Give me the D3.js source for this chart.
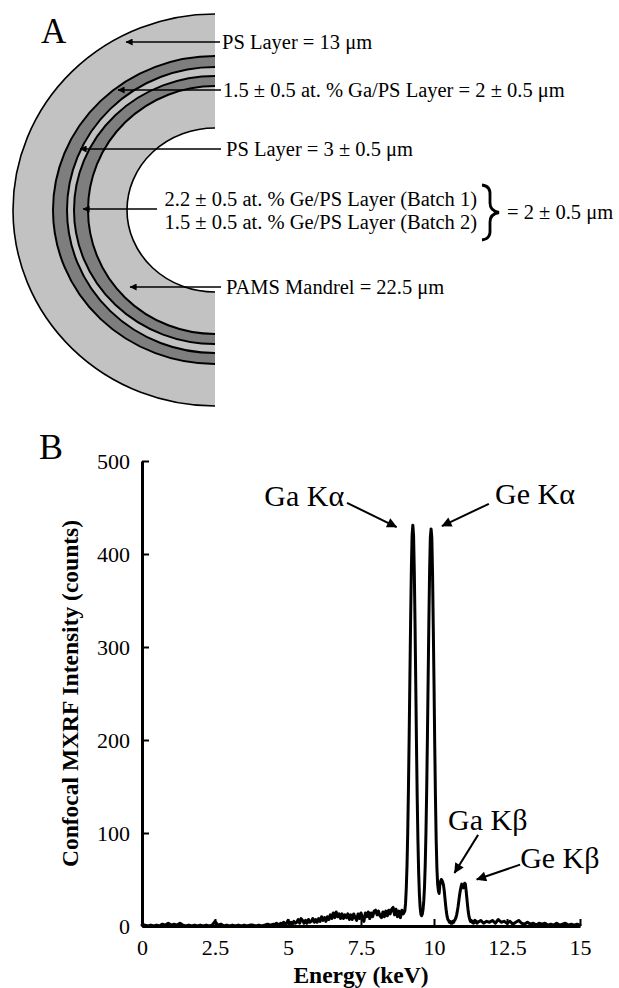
<!DOCTYPE html>
<html><head><meta charset="utf-8">
<script src="https://cdn.jsdelivr.net/npm/d3@7"></script>
<style>
body{margin:0;background:#fff;}
svg{display:block;}
text{font-family:"Liberation Serif","Times New Roman",Times,serif !important;fill:#000;}
</style>
</head><body>
<svg id="chart" width="619" height="988"></svg>
<script>
// ---------------- DATA ----------------
// Panel A: layer annotations (outside -> inside)
const layerLabels = [
  "PS Layer = 13 \u03bcm",
  "1.5 \u00b1 0.5 at. % Ga/PS Layer = 2 \u00b1 0.5 \u03bcm",
  "PS Layer = 3 \u00b1 0.5 \u03bcm",
  "PAMS Mandrel = 22.5 \u03bcm"
];
const geLayerLabels = [
  "2.2 \u00b1 0.5 at. % Ge/PS Layer (Batch 1)",
  "1.5 \u00b1 0.5 at. % Ge/PS Layer (Batch 2)"
];
const geLayerThickness = "= 2 \u00b1 0.5 \u03bcm";
const panelLetters = ["A", "B"];

// Panel B: axis ticks
const xTicks = [0, 2.5, 5, 7.5, 10, 12.5, 15];
const yTicks = [0, 100, 200, 300, 400, 500];
const xTitle = "Energy (keV)";
const yTitle = "Confocal MXRF Intensity (counts)";

// Panel B: spectrum [energy keV, counts]
const lowEnergyBackground = [
 [0,1],[0.1,1],[0.2,0],[0.3,1],[0.4,0],[0.5,1],[0.6,0],[0.7,2],[0.8,1],[0.9,3],
 [1.0,1],[1.1,2],[1.2,1],[1.3,3],[1.4,1],[1.5,0],[1.6,1],[1.7,0],[1.8,1],[1.9,0],
 [2.0,1],[2.1,0],[2.2,1],[2.3,0],[2.4,1],[2.5,5],[2.6,1],[2.7,2],[2.8,0],[2.9,1],
 [3.0,0],[3.1,1],[3.2,0],[3.3,1],[3.4,0],[3.5,1],[3.6,0],[3.7,1],[3.8,1],[3.9,0],
 [4.0,1],[4.1,0],[4.2,1],[4.3,2],[4.4,1]
];
const midBackground = [
 [4.50,2],[4.55,1],[4.60,3],[4.65,2],[4.70,1],[4.75,3],[4.80,2],[4.85,4],[4.90,2],[4.95,3],
 [5.00,6],[5.05,2],[5.10,4],[5.15,2],[5.20,5],[5.25,3],[5.30,4],[5.35,7],[5.40,3],[5.45,8],
 [5.50,6],[5.55,3],[5.60,6],[5.65,3],[5.70,7],[5.75,4],[5.80,5],[5.85,8],[5.90,4],[5.95,7],
 [6.00,4],[6.05,8],[6.10,5],[6.15,10],[6.20,6],[6.25,9],[6.30,5],[6.35,10],[6.40,7],[6.45,12],
 [6.50,8],[6.55,14],[6.60,9],[6.65,15],[6.70,10],[6.75,13],[6.80,8],[6.85,13],[6.90,8],[6.95,12],
 [7.00,9],[7.05,13],[7.10,7],[7.15,12],[7.20,7],[7.25,13],[7.30,9],[7.35,6],[7.40,13],[7.45,8],
 [7.50,14],[7.55,9],[7.60,5],[7.65,14],[7.70,10],[7.75,15],[7.80,8],[7.85,14],[7.90,10],[7.95,16],
 [8.00,17],[8.05,12],[8.10,16],[8.15,11],[8.20,9],[8.25,15],[8.30,10],[8.35,16],[8.40,11],[8.45,17],
 [8.50,13],[8.55,18],[8.60,20],[8.65,12],[8.70,18],[8.75,10],[8.80,16],[8.85,9],[8.90,17],[8.95,13]
];
const peakRegion = [
 [9.000,16],[9.025,24],[9.050,40],[9.075,64],[9.100,100],[9.125,148],[9.150,205],[9.175,268],
 [9.200,330],[9.225,384],[9.250,420],[9.275,431],[9.300,420],[9.325,382],[9.350,326],[9.375,262],
 [9.400,196],[9.425,138],[9.450,92],[9.475,57],[9.500,34],[9.525,20],[9.550,13],[9.575,11],
 [9.600,13],[9.625,18],[9.650,27],[9.675,42],[9.700,66],[9.725,101],[9.750,147],[9.775,204],
 [9.800,267],[9.825,329],[9.850,383],[9.875,418],[9.900,427],[9.925,418],[9.950,380],[9.975,322],
 [10.000,262],[10.025,195],[10.050,138],[10.075,92],[10.100,62],[10.125,45],[10.150,38],[10.175,35],
 [10.200,44],[10.225,48],[10.250,50],[10.275,49],[10.300,47],[10.325,44],[10.350,38],[10.375,30],
 [10.400,22],[10.425,15],[10.450,10],[10.475,7],[10.500,6],[10.525,4],[10.550,5],[10.575,3],
 [10.600,4],[10.625,3],[10.650,5],[10.675,4],[10.700,6],[10.725,7],[10.750,9],[10.775,12],
 [10.800,16],[10.825,21],[10.850,27],[10.875,33],[10.900,38],[10.925,42],[10.950,45],[10.975,44],
 [11.000,41],[11.025,44],[11.050,46],[11.075,45],[11.100,38],[11.125,30],[11.150,22],[11.175,15],
 [11.200,10],[11.225,7],[11.250,5],[11.275,6],[11.300,4],[11.325,5],[11.350,3],[11.375,4],
 [11.400,6],[11.425,4],[11.450,5],[11.475,3]
];
const highEnergyTail = [
 [11.5,4],[11.6,6],[11.7,3],[11.8,5],[11.9,4],[12.0,6],[12.1,3],[12.2,7],[12.3,4],[12.4,5],
 [12.5,3],[12.6,5],[12.7,2],[12.8,4],[12.9,6],[13.0,3],[13.1,2],[13.2,4],[13.3,2],[13.4,3],
 [13.5,1],[13.6,3],[13.7,2],[13.8,3],[13.9,1],[14.0,2],[14.1,1],[14.2,3],[14.3,1],[14.4,2],
 [14.5,3],[14.6,1],[14.7,2],[14.8,1],[14.9,2],[15.0,1]
];

// Panel B: peak annotations (label anchor & arrow, in data units keV / counts)
const peakLabels = ["Ga K\u03b1", "Ge K\u03b1", "Ga K\u03b2", "Ge K\u03b2"];
const peakLabelAt = [[4.19,452],[12.09,454],[10.48,103],[12.95,62]];
const peakArrowFrom = [[7.02,455],[11.88,454],[11.51,98],[12.95,66]];
const peakArrowTo = [[8.72,429],[10.27,430],[10.70,57],[11.46,50]];

// ---------------- DRAWING ----------------
const serif = '"Liberation Serif","Times New Roman",Times,serif';
const svg = d3.select("#chart");
const defs = svg.append("defs");

function addMarker(id, len, wid) {
  defs.append("marker").attr("id", id)
    .attr("viewBox", "0 0 10 10").attr("refX", 9.5).attr("refY", 5)
    .attr("markerUnits", "userSpaceOnUse")
    .attr("markerWidth", len).attr("markerHeight", wid)
    .attr("orient", "auto")
    .append("path").attr("d", "M0,0 L10,5 L0,10 Z").attr("fill", "#000");
}
addMarker("arrA", 9, 7);
addMarker("arrB", 13, 10);

// ----- Panel A -----
const A = svg.append("g");
A.append("text").attr("x", 41).attr("y", 43).attr("font-size", 35).text(panelLetters[0]);

const cx = 215, cy = 210;
defs.append("clipPath").attr("id", "halfClip")
  .append("rect").attr("x", 0).attr("y", 0).attr("width", cx).attr("height", 420);

const light = "#c2c2c2", dark = "#7e7e7e";
const shells = [
  {rx: 202, ry: 196, fill: light, sw: 1.6},
  {rx: 162, ry: 154, fill: dark, sw: 2},
  {rx: 148, ry: 143, fill: light, sw: 2},
  {rx: 141, ry: 134, fill: dark, sw: 2},
  {rx: 127, ry: 124, fill: light, sw: 2},
  {rx: 88,  ry: 82,  fill: "#fff", sw: 1.6}
];
const shellG = A.append("g").attr("clip-path", "url(#halfClip)");
shellG.selectAll("ellipse").data(shells).join("ellipse")
  .attr("cx", cx).attr("cy", cy)
  .attr("rx", d => d.rx).attr("ry", d => d.ry)
  .attr("fill", d => d.fill).attr("stroke", "#000").attr("stroke-width", d => d.sw);

const fsA = 20.5;
const layerLayout = [
  {y: 42, tip: 126, lineStart: 220, tx: 222},
  {y: 90, tip: 118, lineStart: 221, tx: 223},
  {y: 149, tip: 80, lineStart: 221, tx: 226},
  {y: 287, tip: 130, lineStart: 221, tx: 226}
];
layerLabels.forEach((t, i) => {
  const L = layerLayout[i];
  A.append("line").attr("x1", L.lineStart).attr("y1", L.y).attr("x2", L.tip).attr("y2", L.y)
    .attr("stroke", "#000").attr("stroke-width", 1.5).attr("marker-end", "url(#arrA)");
  A.append("text").attr("x", L.tx).attr("y", L.y + 6.5).attr("font-size", fsA).text(t);
});
// Ge layer (two batches)
A.append("line").attr("x1", 157).attr("y1", 209).attr("x2", 83).attr("y2", 209)
  .attr("stroke", "#000").attr("stroke-width", 1.5).attr("marker-end", "url(#arrA)");
geLayerLabels.forEach((t, i) => {
  A.append("text").attr("x", 477).attr("y", 205.5 + i * 23.5).attr("font-size", fsA)
    .attr("text-anchor", "end").text(t);
});
// brace
const bp = d3.path();
bp.moveTo(482, 185);
bp.quadraticCurveTo(491, 186, 490, 196);
bp.lineTo(490, 203);
bp.quadraticCurveTo(490, 211, 499, 212.5);
bp.quadraticCurveTo(490, 214, 490, 222);
bp.lineTo(490, 229);
bp.quadraticCurveTo(491, 239, 482, 240);
A.append("path").attr("d", bp.toString()).attr("fill", "none").attr("stroke", "#000").attr("stroke-width", 2.8);
A.append("text").attr("x", 507).attr("y", 218.5).attr("font-size", fsA).text(geLayerThickness);

// ----- Panel B -----
const B = svg.append("g");
B.append("text").attr("x", 39).attr("y", 459).attr("font-size", 36).text(panelLetters[1]);

const x = d3.scaleLinear().domain([0, 15]).range([142, 580]);
const y = d3.scaleLinear().domain([0, 500]).range([926, 461]);

const spectrum = lowEnergyBackground.concat(midBackground, peakRegion, highEnergyTail);
const line = d3.line().x(d => x(d[0])).y(d => y(d[1]));

const yAxis = B.append("g").attr("transform", `translate(${x(0)},0)`)
  .call(d3.axisLeft(y).tickValues(yTicks).tickSize(-7).tickSizeOuter(0).tickPadding(12).tickFormat(d3.format("d")));
const xAxis = B.append("g").attr("transform", `translate(0,${y(0)})`)
  .call(d3.axisBottom(x).tickValues(xTicks).tickSize(-7).tickSizeOuter(0).tickPadding(13).tickFormat(d => String(d)));
[yAxis, xAxis].forEach(g => {
  g.attr("font-family", null).style("font-family", serif);
  g.select(".domain").attr("stroke", "#000").attr("stroke-width", 3);
  g.selectAll(".tick line").attr("stroke", "#000").attr("stroke-width", 2);
  g.selectAll(".tick text").style("font-family", serif)
    .attr("font-size", 22).attr("fill", "#000");
});

B.append("path").datum(spectrum).attr("d", line)
  .attr("fill", "none").attr("stroke", "#000").attr("stroke-width", 3)
  .attr("stroke-linejoin", "round").attr("stroke-linecap", "round");

// titles
B.append("text").attr("x", 361).attr("y", 983).attr("text-anchor", "middle")
  .attr("font-size", 23.5).attr("font-weight", "bold").text(xTitle);
B.append("text").attr("transform", `translate(78,${(y(0) + y(500)) / 2}) rotate(-90)`)
  .attr("text-anchor", "middle").attr("font-size", 23.5).attr("font-weight", "bold").text(yTitle);

// peak annotations
peakLabels.forEach((t, i) => {
  B.append("text").attr("x", x(peakLabelAt[i][0])).attr("y", y(peakLabelAt[i][1]))
    .attr("font-size", 30).text(t);
  B.append("line")
    .attr("x1", x(peakArrowFrom[i][0])).attr("y1", y(peakArrowFrom[i][1]))
    .attr("x2", x(peakArrowTo[i][0])).attr("y2", y(peakArrowTo[i][1]))
    .attr("stroke", "#000").attr("stroke-width", 2).attr("marker-end", "url(#arrB)");
});
</script>
</body></html>
